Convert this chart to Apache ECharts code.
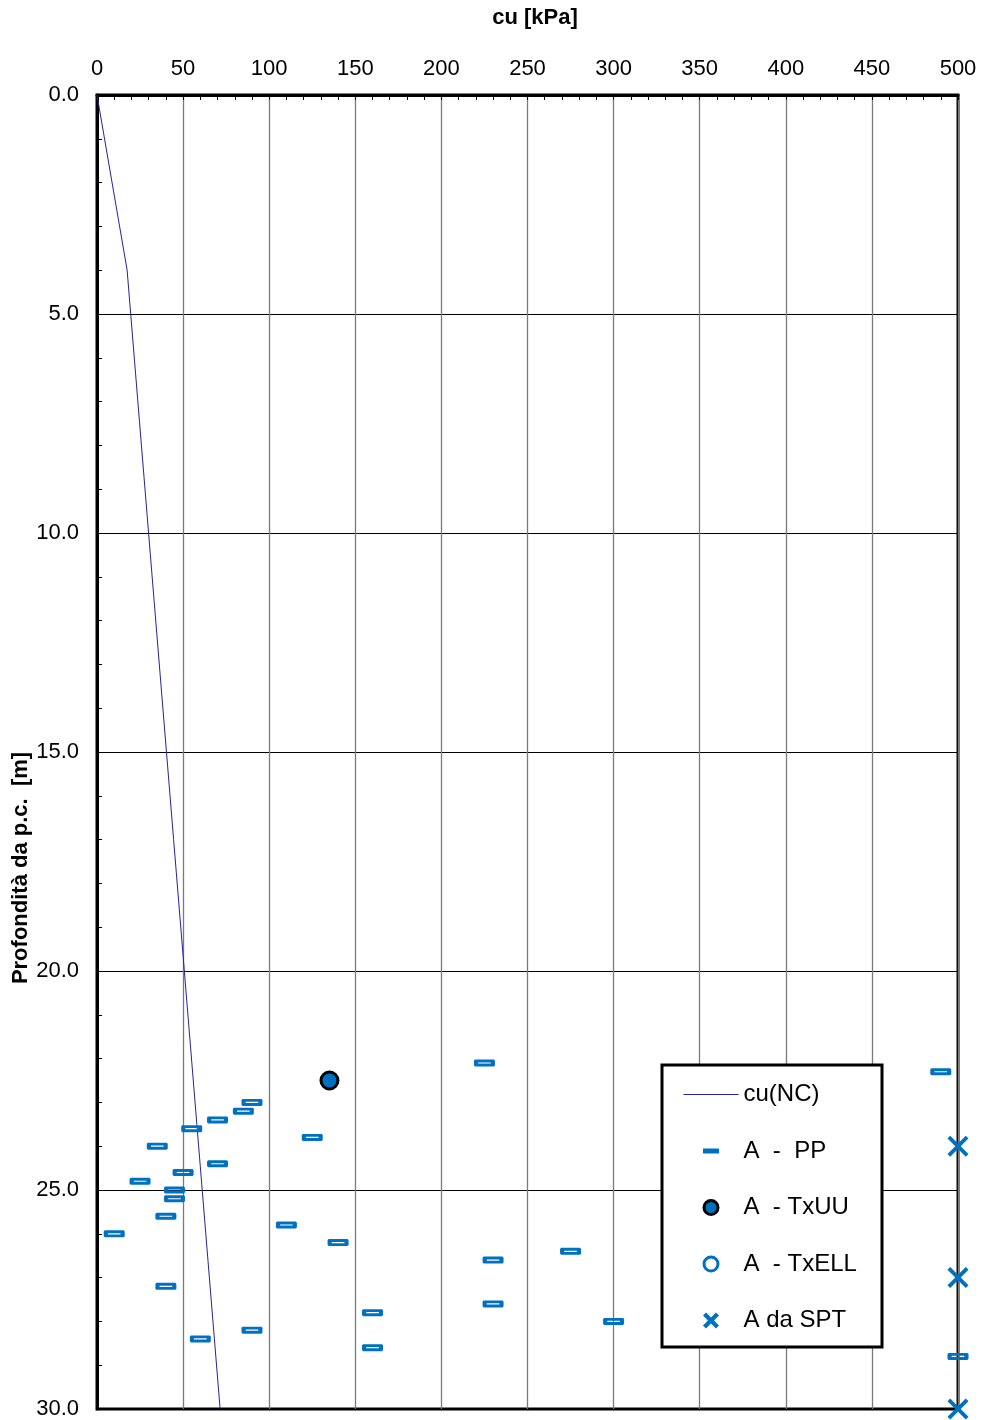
<!DOCTYPE html>
<html>
<head>
<meta charset="utf-8">
<script src="https://cdn.jsdelivr.net/npm/echarts@6/dist/echarts.min.js"></script>
<style>
  html, body { margin: 0; padding: 0; background: #fff; }
  #chart { width: 981px; height: 1420px; }
</style>
</head>
<body>
<div id="chart"></div>
<script>
// Undrained shear strength cu [kPa] versus depth [m]

// normally-consolidated reference line: [cu, depth]
const cuNC = [[0, 0], [17.5, 4.0], [71.5, 30.0]];

// pocket penetrometer readings: [cu, depth]
const ppData = [
  [225, 22.1], [490, 22.3], [90, 23.0], [85, 23.2], [70, 23.4], [55, 23.6],
  [125, 23.8], [35, 24.0], [70, 24.4], [50, 24.6], [25, 24.8], [45, 25.0],
  [45, 25.2], [40, 25.6], [110, 25.8], [10, 26.0], [140, 26.2], [275, 26.4],
  [230, 26.6], [40, 27.2], [230, 27.6], [160, 27.8], [300, 28.0], [90, 28.2],
  [60, 28.4], [160, 28.6], [500, 28.8]
];

// triaxial UU test
const txuuData = [[135, 22.5]];

// triaxial ELL test (none in this profile)
const txellData = [];

// values derived from SPT
const sptData = [[500, 24.0], [500, 27.0], [500, 30.0]];

const seriesNames = ['cu(NC)', 'A  -  PP', 'A  - TxUU', 'A  - TxELL', 'A da SPT'];

const BLUE = '#0070C0';
const NAVY = '#23239c';
const FONT = 'Liberation Sans, Arial, sans-serif';

// X-shaped symbol path inside a square box (ox, oy, size s), arm offset t on a 0..10 grid
function crossPath(ox, oy, s, t) {
  const k = s / 10;
  const pts = [[0, t], [t, 0], [5, 5 - t], [10 - t, 0], [10, t], [5 + t, 5],
               [10, 10 - t], [10 - t, 10], [5, 5 + t], [t, 10], [0, 10 - t], [5 - t, 5]];
  return pts.map((p, i) => (i ? 'L' : 'M') + (ox + p[0] * k).toFixed(2) + ',' + (oy + p[1] * k).toFixed(2)).join('') + 'Z';
}
// legend icon box; the leading moveTo points pin every icon to the same frame
const LW = 55, LH = 17;
const box = 'path://M0,0M' + LW + ',' + LH;
const cx = LW / 2, cy = LH / 2;
const legendLine = box + 'M0,' + (cy - 0.5) + 'h' + LW + 'v1h-' + LW + 'z';
const legendDash = box + 'M' + (cx - 8) + ',' + (cy - 2.5) + 'h16v5h-16z';
const r = 7;
const legendCircle = box + 'M' + (cx + r) + ',' + cy + 'A' + r + ',' + r + ',0,1,1,' + (cx - r) + ',' + cy +
                     'A' + r + ',' + r + ',0,1,1,' + (cx + r) + ',' + cy + 'Z';
const legendCross = box + crossPath(cx - 8, cy - 8, 16, 1.9);
// PP marker: rounded bar with a thin light slot in the middle
const ppSymbol = 'path://M1,0h18l1,1v4l-1,1h-18l-1,-1v-4zM4,2.5v1h12v-1z';

const chart = echarts.init(document.getElementById('chart'), null, { renderer: 'canvas' });

chart.setOption({
  animation: false,
  backgroundColor: '#fff',
  textStyle: { fontFamily: FONT },
  grid: {
    left: 97, right: 23, top: 95, bottom: 11,
    show: true, borderColor: '#000', borderWidth: 3, backgroundColor: 'transparent'
  },
  xAxis: {
    type: 'value', position: 'top', min: 0, max: 500, interval: 50,
    axisLine: { show: true, lineStyle: { color: '#000', width: 3 } },
    axisTick: { show: true, inside: true, length: 5, lineStyle: { color: '#000', width: 1 } },
    minorTick: { show: true, splitNumber: 5, length: 5, lineStyle: { color: '#000', width: 1 } },
    axisLabel: { color: '#000', fontSize: 22, margin: 15 },
    splitLine: { show: true, lineStyle: { color: '#7a7a7a', width: 1.3 } }
  },
  yAxis: {
    type: 'value', inverse: true, min: 0, max: 30, interval: 5,
    axisLine: { show: true, lineStyle: { color: '#000', width: 3 } },
    axisTick: { show: true, inside: true, length: 5, lineStyle: { color: '#000', width: 1 } },
    minorTick: { show: true, splitNumber: 5, length: 5, lineStyle: { color: '#000', width: 1 } },
    axisLabel: { color: '#000', fontSize: 22, margin: 18, formatter: v => v.toFixed(1) },
    splitLine: { show: true, lineStyle: { color: '#000', width: 1 } }
  },
  graphic: [
    {
      type: 'text', x: 535, y: 18, z: 10,
      style: { text: 'cu [kPa]', font: 'bold 22px ' + FONT, fill: '#000', align: 'center', verticalAlign: 'middle' }
    },
    {
      type: 'text', x: 21, y: 868, rotation: Math.PI / 2, z: 10,
      style: {
        text: 'Profondità da p.c.  [m]', font: 'bold 22px ' + FONT,
        fill: '#000', align: 'center', verticalAlign: 'middle'
      }
    },
    {
      type: 'rect', x: 662, y: 1065, z: 20,
      shape: { width: 220, height: 282 },
      style: { fill: '#fff', stroke: '#000', lineWidth: 3 }
    }
  ],
  legend: {
    orient: 'vertical', left: 677, top: 1077, z: 30,
    itemWidth: LW, itemHeight: LH, itemGap: 31.5,
    textStyle: { fontSize: 24, color: '#000', lineHeight: 25 },
    data: [
      { name: seriesNames[0], icon: legendLine, itemStyle: { color: NAVY, borderWidth: 0 } },
      { name: seriesNames[1], icon: legendDash, itemStyle: { color: BLUE, borderWidth: 0 } },
      { name: seriesNames[2], icon: legendCircle, itemStyle: { color: BLUE, borderColor: '#000', borderWidth: 3 } },
      { name: seriesNames[3], icon: legendCircle, itemStyle: { color: '#fff', borderColor: BLUE, borderWidth: 3 } },
      { name: seriesNames[4], icon: legendCross, itemStyle: { color: BLUE, borderWidth: 0 } }
    ]
  },
  series: [
    {
      name: seriesNames[0], type: 'line', data: cuNC, symbol: 'none', showSymbol: false,
      lineStyle: { color: NAVY, width: 1 }, z: 3
    },
    {
      name: seriesNames[1], type: 'scatter', data: ppData,
      symbol: ppSymbol, symbolSize: [21, 7],
      itemStyle: { color: BLUE, opacity: 1 }, z: 4
    },
    {
      name: seriesNames[2], type: 'scatter', data: txuuData,
      symbol: 'circle', symbolSize: 17,
      itemStyle: { color: BLUE, borderColor: '#000', borderWidth: 3, opacity: 1 }, z: 5
    },
    {
      name: seriesNames[3], type: 'scatter', data: txellData,
      symbol: 'circle', symbolSize: 14,
      itemStyle: { color: '#fff', borderColor: BLUE, borderWidth: 3, opacity: 1 }, z: 5
    },
    {
      name: seriesNames[4], type: 'scatter', data: sptData,
      symbol: 'path://' + crossPath(0, 0, 10, 1.3), symbolSize: 21, symbolKeepAspect: true,
      itemStyle: { color: BLUE, opacity: 1 }, z: 6
    }
  ]
});
</script>
</body>
</html>
